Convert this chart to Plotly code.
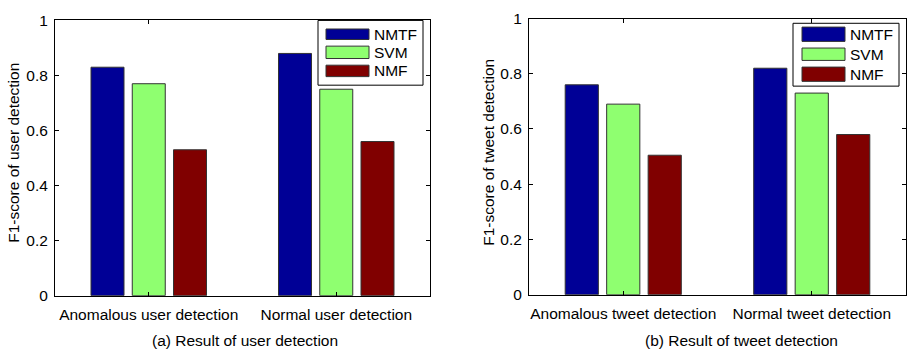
import plotly.graph_objects as go

# ---- data ----
methods = ["NMTF", "SVM", "NMF"]
colors = ["#000096", "#8FFF70", "#800000"]
user_categories = ["Anomalous user detection", "Normal user detection"]
user_nmtf = [0.83, 0.88]
user_svm = [0.77, 0.75]
user_nmf = [0.53, 0.56]
tweet_categories = ["Anomalous tweet detection", "Normal tweet detection"]
tweet_nmtf = [0.76, 0.82]
tweet_svm = [0.69, 0.73]
tweet_nmf = [0.505, 0.58]
y_ticks = [0, 0.2, 0.4, 0.6, 0.8, 1]
y_ticklabels = ["0", "0.2", "0.4", "0.6", "0.8", "1"]

W, H = 907, 356
FONT = "Liberation Sans, Arial, sans-serif"
FS = 15.5

def px(x):
    return x / W

def py(y):
    return 1 - y / H

fig = go.Figure()
user_vals = [user_nmtf, user_svm, user_nmf]
tweet_vals = [tweet_nmtf, tweet_svm, tweet_nmf]
for i, m in enumerate(methods):
    fig.add_trace(go.Bar(x=list(range(1, len(user_categories) + 1)), y=user_vals[i], name=m,
                         marker=dict(color=colors[i], line=dict(color="#333333", width=1)),
                         xaxis="x", yaxis="y", showlegend=False))
    fig.add_trace(go.Bar(x=list(range(1, len(tweet_categories) + 1)), y=tweet_vals[i], name=m,
                         marker=dict(color=colors[i], line=dict(color="#333333", width=1)),
                         xaxis="x2", yaxis="y2", showlegend=False))

axis_common = dict(showline=True, linecolor="black", linewidth=1, mirror="ticks",
                   ticks="inside", ticklen=4, tickcolor="black", showgrid=False,
                   zeroline=False, tickfont=dict(family=FONT, size=FS, color="black"))

fig.update_layout(
    width=W, height=H, margin=dict(l=0, r=0, t=0, b=0),
    paper_bgcolor="white", plot_bgcolor="white",
    barmode="group", bargap=0.34, bargroupgap=0.2,
    showlegend=False,
    xaxis=dict(domain=[px(55), px(430)], range=[0.5, 2.5], tickvals=[1, 2],
               ticktext=user_categories, anchor="y", ticklabelstandoff=5, **axis_common),
    yaxis=dict(domain=[py(301), py(12)], range=[0, 1], tickvals=y_ticks,
               ticktext=y_ticklabels, anchor="x", ticklabelstandoff=3, **axis_common),
    xaxis2=dict(domain=[px(529), px(906)], range=[0.5, 2.5], tickvals=[1, 2],
                ticktext=tweet_categories, anchor="y2", ticklabelstandoff=5, **axis_common),
    yaxis2=dict(domain=[py(300), py(10)], range=[0, 1], tickvals=y_ticks,
                ticktext=y_ticklabels, anchor="x2", ticklabelstandoff=3, **axis_common),
)

annotations = []
shapes = []

# axis titles and captions
for text, x, y, ang in [
    ("F1-score of user detection", 13.5, 151.5, -90),
    ("F1-score of tweet detection", 489, 151, -90),
    ("(a) Result of user detection", 245, 348, 0),
    ("(b) Result of tweet detection", 741, 348, 0),
]:
    annotations.append(dict(text=text, x=px(x), y=py(y), xref="paper", yref="paper",
                            xanchor="center", yanchor="middle", showarrow=False,
                            textangle=ang, font=dict(family=FONT, size=FS, color="black")))

# manual legends (MATLAB style wide swatches)
legends = [
    dict(box=(318, 12, 423, 80), sw_x=(326, 369), sw_y=[(21, 32), (39, 52), (59, 71)], tx=372),
    dict(box=(793, 15, 899, 81), sw_x=(802, 845), sw_y=[(19, 34), (41, 54), (61, 76)], tx=848),
]
for lg in legends:
    x0, y0, x1, y1 = lg["box"]
    shapes.append(dict(type="rect", xref="paper", yref="paper", x0=px(x0), x1=px(x1),
                       y0=py(y1), y1=py(y0), fillcolor="white",
                       line=dict(color="black", width=1), layer="above"))
    for i, m in enumerate(methods):
        sy0, sy1 = lg["sw_y"][i]
        shapes.append(dict(type="rect", xref="paper", yref="paper",
                           x0=px(lg["sw_x"][0]), x1=px(lg["sw_x"][1]),
                           y0=py(sy1), y1=py(sy0), fillcolor=colors[i],
                           line=dict(color="#333333", width=1), layer="above"))
        annotations.append(dict(text=m, x=px(lg["tx"]), y=py((sy0 + sy1) / 2),
                                xref="paper", yref="paper", xanchor="left", yanchor="middle",
                                showarrow=False, font=dict(family=FONT, size=FS, color="black")))

fig.update_layout(annotations=annotations, shapes=shapes)
fig.write_html("out.html")
